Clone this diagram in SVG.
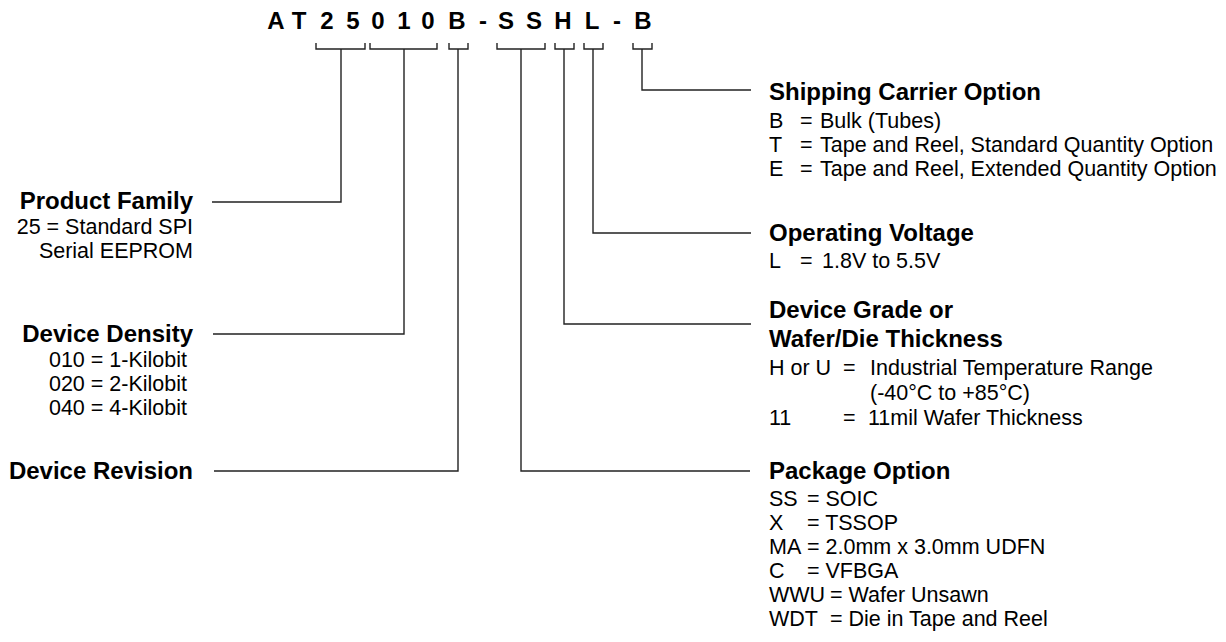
<svg xmlns="http://www.w3.org/2000/svg" width="1226" height="642" viewBox="0 0 1226 642">
<style>
text{font-family:"Liberation Sans",Arial,sans-serif;fill:#000}
.code{font-size:24px;font-weight:bold;text-anchor:middle}
.h{font-size:24px;font-weight:bold}
.t{font-size:21.5px}
.r{text-anchor:end}
.ln{fill:none;stroke:#222;stroke-width:1.4}
</style>
<rect width="1226" height="642" fill="#fff"/>
<g id="code">
<text class="code" x="276" y="29">A</text>
<text class="code" x="299" y="29">T</text>
<text class="code" x="327" y="29">2</text>
<text class="code" x="353" y="29">5</text>
<text class="code" x="378" y="29">0</text>
<text class="code" x="404" y="29">1</text>
<text class="code" x="428" y="29">0</text>
<text class="code" x="457" y="29">B</text>
<text class="code" x="483" y="29">-</text>
<text class="code" x="506" y="29">S</text>
<text class="code" x="534" y="29">S</text>
<text class="code" x="563" y="29">H</text>
<text class="code" x="592" y="29">L</text>
<text class="code" x="617" y="29">-</text>
<text class="code" x="643" y="29">B</text>
</g>
<g id="connectors" class="ln">
<path d="M316,43V49H365V43"/>
<path d="M370,43V49H437V43"/>
<path d="M449,43V49H468V43"/>
<path d="M497,43V49H545V43"/>
<path d="M555,43V49H574V43"/>
<path d="M584,43V49H603V43"/>
<path d="M633,43V49H652V43"/>
<path d="M212,202H341V49"/>
<path d="M213,334H404V49"/>
<path d="M214,471H458V49"/>
<path d="M521,49V471H750"/>
<path d="M564,49V324H751"/>
<path d="M593,49V233H751"/>
<path d="M642,49V90H751"/>
</g>
<g id="product-family">
<text class="h r" x="193" y="209">Product Family</text>
<text class="t r" x="193" y="234">25 = Standard SPI</text>
<text class="t r" x="193" y="258">Serial EEPROM</text>
</g>
<g id="device-density">
<text class="h r" x="193" y="342">Device Density</text>
<text class="t r" x="187" y="367">010 = 1-Kilobit</text>
<text class="t r" x="187" y="391">020 = 2-Kilobit</text>
<text class="t r" x="187" y="415">040 = 4-Kilobit</text>
</g>
<g id="device-revision">
<text class="h r" x="193" y="479">Device Revision</text>
</g>
<g id="shipping-carrier">
<text class="h" x="769" y="100">Shipping Carrier Option</text>
<text class="t" y="128"><tspan x="769">B</tspan><tspan x="800">=</tspan><tspan x="820">Bulk (Tubes)</tspan></text>
<text class="t" y="152"><tspan x="769">T</tspan><tspan x="800">=</tspan><tspan x="820">Tape and Reel, Standard Quantity Option</tspan></text>
<text class="t" y="176"><tspan x="769">E</tspan><tspan x="800">=</tspan><tspan x="820">Tape and Reel, Extended Quantity Option</tspan></text>
</g>
<g id="operating-voltage">
<text class="h" x="769" y="241">Operating Voltage</text>
<text class="t" y="268"><tspan x="769">L</tspan><tspan x="800">=</tspan><tspan x="822">1.8V to 5.5V</tspan></text>
</g>
<g id="device-grade">
<text class="h" x="769" y="318">Device Grade or</text>
<text class="h" x="769" y="347">Wafer/Die Thickness</text>
<text class="t" y="375"><tspan x="769">H or U</tspan><tspan x="843">=</tspan><tspan x="870">Industrial Temperature Range</tspan></text>
<text class="t" x="870" y="400">(-40°C to +85°C)</text>
<text class="t" y="425"><tspan x="769">11</tspan><tspan x="843">=</tspan><tspan x="868">11mil Wafer Thickness</tspan></text>
</g>
<g id="package-option">
<text class="h" x="769" y="479">Package Option</text>
<text class="t" y="506"><tspan x="769">SS</tspan><tspan x="807">= SOIC</tspan></text>
<text class="t" y="530"><tspan x="769">X</tspan><tspan x="807">= TSSOP</tspan></text>
<text class="t" y="554"><tspan x="769">MA</tspan><tspan x="807">= 2.0mm x 3.0mm UDFN</tspan></text>
<text class="t" y="578"><tspan x="769">C</tspan><tspan x="807">= VFBGA</tspan></text>
<text class="t" y="602"><tspan x="769">WWU</tspan><tspan x="830">= Wafer Unsawn</tspan></text>
<text class="t" y="626"><tspan x="769">WDT</tspan><tspan x="830">= Die in Tape and Reel</tspan></text>
</g>
</svg>
